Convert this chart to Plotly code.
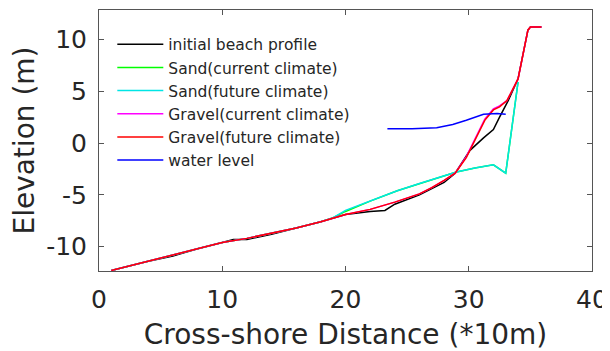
import plotly.graph_objects as go

# Cross-shore distance (*10m) and elevation (m)
init_x = [1.0, 2.0, 4.0, 6.0, 8.0, 10.0, 10.9, 12.0, 14.0, 16.0, 18.0, 20.0, 22.0, 23.2, 24.0, 26.0, 28.0, 28.9, 30.1, 31.2, 32.0, 32.5, 33.2, 34.0, 34.8, 35.0, 35.9]
init_y = [-12.3, -12.0, -11.4, -10.9, -10.2, -9.6, -9.3, -9.3, -8.8, -8.2, -7.6, -6.9, -6.6, -6.5, -5.9, -5.0, -3.8, -2.9, -0.7, 0.5, 1.3, 2.5, 4.1, 6.2, 10.9, 11.2, 11.2]

sand_cur_x = [1.0, 4.0, 6.0, 8.0, 10.0, 12.0, 14.0, 16.0, 18.0, 19.0, 20.0, 22.0, 24.2, 26.0, 29.0, 30.5, 32.0, 33.0, 34.0]
sand_cur_y = [-12.3, -11.4, -10.8, -10.2, -9.6, -9.2, -8.7, -8.2, -7.6, -7.2, -6.6, -5.6, -4.6, -3.9, -2.8, -2.4, -2.1, -2.9, 5.9]

sand_fut_x = [1.0, 4.0, 6.0, 8.0, 10.0, 12.0, 14.0, 16.0, 18.0, 19.0, 20.0, 22.0, 24.2, 26.0, 29.0, 30.5, 32.0, 33.0, 34.0]
sand_fut_y = [-12.3, -11.4, -10.8, -10.2, -9.6, -9.2, -8.7, -8.2, -7.6, -7.2, -6.5, -5.6, -4.6, -3.9, -2.8, -2.4, -2.1, -2.9, 5.9]

grav_cur_x = [1.0, 4.0, 6.0, 8.0, 10.0, 12.0, 14.0, 16.0, 18.0, 20.0, 22.0, 24.0, 26.0, 27.0, 28.0, 28.9, 29.8, 30.6, 31.3, 32.0, 32.5, 33.1, 34.0, 34.8, 35.0, 35.9]
grav_cur_y = [-12.3, -11.4, -10.8, -10.2, -9.6, -9.2, -8.7, -8.2, -7.6, -6.9, -6.4, -5.7, -4.9, -4.3, -3.6, -2.9, -1.3, 0.7, 2.3, 3.3, 3.6, 4.1, 6.2, 10.9, 11.2, 11.2]

grav_fut_x = [1.0, 4.0, 6.0, 8.0, 10.0, 12.0, 14.0, 16.0, 18.0, 20.0, 22.0, 24.0, 26.0, 27.0, 28.0, 28.9, 29.8, 30.6, 31.3, 32.0, 32.5, 33.1, 34.0, 34.8, 35.0, 35.9]
grav_fut_y = [-12.3, -11.4, -10.8, -10.2, -9.6, -9.2, -8.7, -8.2, -7.6, -6.9, -6.4, -5.7, -4.9, -4.3, -3.6, -2.9, -1.4, 0.6, 2.2, 3.2, 3.5, 4.1, 6.2, 10.9, 11.2, 11.2]

water_x = [23.4, 25.4, 27.4, 28.7, 29.8, 31.2, 32.3, 33.0]
water_y = [1.39, 1.39, 1.49, 1.8, 2.2, 2.78, 2.85, 2.78]

x_ticks = [0, 10, 20, 30, 40]
x_ticklabels = ["0", "10", "20", "30", "40"]
y_ticks = [-10, -5, 0, 5, 10]
y_ticklabels = ["-10", "-5", "0", "5", "10"]

series = [
    ("initial beach profile", init_x, init_y, "#000000"),
    ("Sand(current climate)", sand_cur_x, sand_cur_y, "#00ff00"),
    ("Sand(future climate)", sand_fut_x, sand_fut_y, "#00e5e5"),
    ("Gravel(current climate)", grav_cur_x, grav_cur_y, "#ff00ff"),
    ("Gravel(future climate)", grav_fut_x, grav_fut_y, "#ff0000"),
    ("water level", water_x, water_y, "#0000ff"),
]

fig = go.Figure()
for name, xs, ys, c in series:
    fig.add_trace(go.Scatter(x=xs, y=ys, mode="lines", name=name,
                             line=dict(color=c, width=1.5)))

font_family = "DejaVu Sans"
axis_common = dict(
    showgrid=False, zeroline=False, showline=True, linecolor="#555555",
    linewidth=1, mirror="ticks", ticks="inside", ticklen=5,
    tickcolor="#555555", automargin=False,
    tickfont=dict(size=25, color="#262626", family=font_family),
)

# The page body has an 8px margin, so the figure is sized to fill the rest of the window
fig.update_layout(
    width=602, height=343,
    margin=dict(l=91, r=18, t=2, b=80),
    paper_bgcolor="white", plot_bgcolor="white",
    font=dict(family=font_family, color="#262626"),
    xaxis=dict(range=[0, 40], tickmode="array", tickvals=x_ticks, ticktext=x_ticklabels,
               ticklabelstandoff=6,
               title=dict(text="Cross-shore Distance (*10m)", font=dict(size=28), standoff=13),
               **axis_common),
    yaxis=dict(range=[-12.35, 12.85], tickmode="array", tickvals=y_ticks, ticktext=y_ticklabels,
               ticklabelstandoff=6,
               title=dict(text="Elevation (m)", font=dict(size=28), standoff=8),
               **axis_common),
    legend=dict(x=0.027, y=0.932, xanchor="left", yanchor="top",
                bgcolor="rgba(255,255,255,0)", borderwidth=0,
                font=dict(size=15.5, color="#262626"), tracegroupgap=0,
                itemwidth=46),
    showlegend=True,
)

fig.write_html("out.html")
